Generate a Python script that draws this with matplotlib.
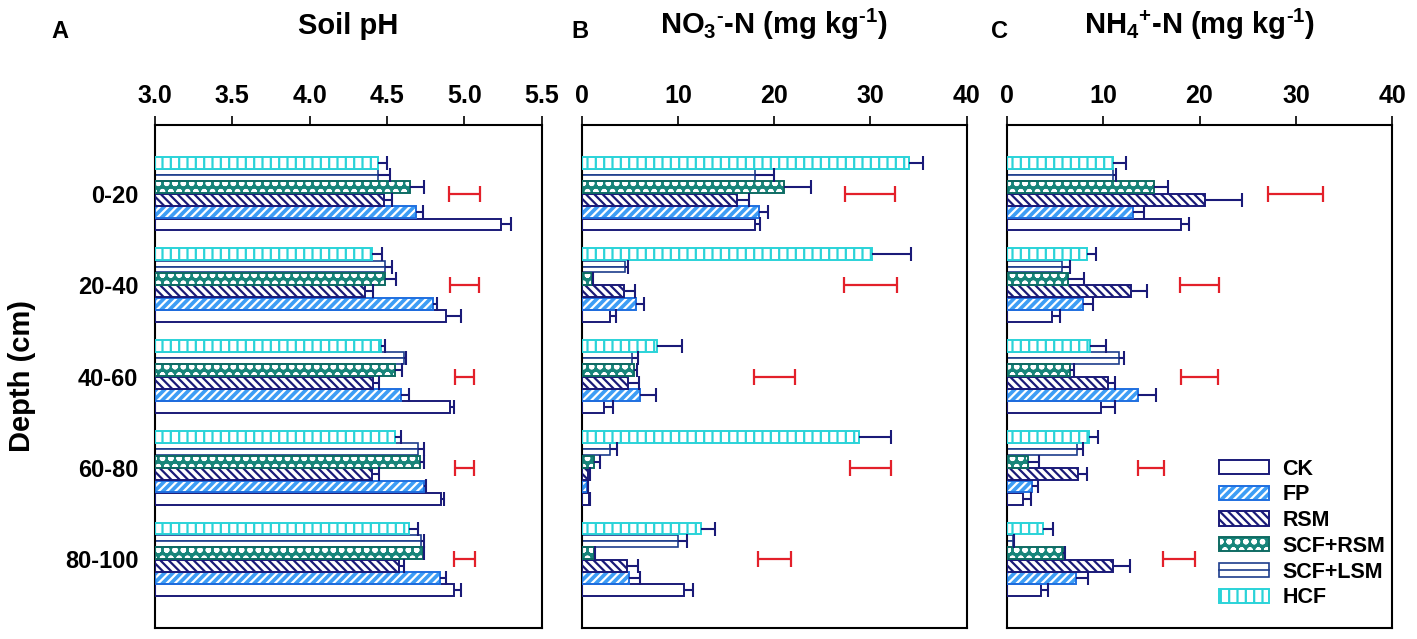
import numpy as np
import matplotlib
matplotlib.use("Agg")
import matplotlib.pyplot as plt
from matplotlib.patches import Patch
from matplotlib.lines import Line2D
from matplotlib.ticker import FormatStrFormatter

plt.rcParams["font.family"] = ["Liberation Sans", "DejaVu Sans"]
plt.rcParams["font.weight"] = "bold"
plt.rcParams["mathtext.fontset"] = "custom"
plt.rcParams["mathtext.rm"] = "Liberation Sans:bold"
plt.rcParams["mathtext.bf"] = "Liberation Sans:bold"
plt.rcParams["mathtext.it"] = "Liberation Sans:bold"
plt.rcParams["mathtext.default"] = "bf"
plt.rcParams["hatch.linewidth"] = 1.6

depths = ["0-20", "20-40", "40-60", "60-80", "80-100"]
treatments = ["CK", "FP", "RSM", "SCF+RSM", "SCF+LSM", "HCF"]

# rows follow treatments, columns follow depths
ph_mean = [
    [5.24, 4.88, 4.91, 4.85, 4.93],
    [4.69, 4.80, 4.59, 4.74, 4.84],
    [4.48, 4.36, 4.41, 4.40, 4.58],
    [4.65, 4.49, 4.55, 4.71, 4.73],
    [4.44, 4.49, 4.61, 4.70, 4.72],
    [4.44, 4.40, 4.46, 4.55, 4.64],
]
ph_err = [
    [0.06, 0.10, 0.02, 0.02, 0.05],
    [0.04, 0.02, 0.05, 0.01, 0.04],
    [0.05, 0.05, 0.04, 0.05, 0.03],
    [0.09, 0.07, 0.05, 0.03, 0.01],
    [0.08, 0.04, 0.01, 0.04, 0.02],
    [0.06, 0.07, 0.03, 0.04, 0.06],
]
ph_lsd_center = [5.0, 5.0, 5.0, 5.0, 5.0]
ph_lsd_half = [0.10, 0.095, 0.06, 0.06, 0.07]

no3_mean = [
    [18.0, 2.9, 2.35, 0.8, 10.6],
    [18.4, 5.6, 6.1, 0.6, 4.95],
    [16.1, 4.4, 4.8, 0.7, 4.75],
    [21.05, 1.1, 5.4, 1.3, 1.3],
    [18.0, 4.5, 5.2, 2.9, 9.97],
    [34.0, 30.2, 7.85, 28.8, 12.4],
]
no3_err = [
    [0.5, 0.7, 0.85, 0.1, 1.0],
    [1.0, 0.9, 1.65, 0.1, 1.1],
    [1.3, 1.1, 1.2, 0.2, 1.05],
    [2.75, 0.1, 0.3, 0.6, 0.1],
    [2.0, 0.3, 0.6, 0.8, 1.0],
    [1.5, 4.0, 2.55, 3.3, 1.5],
]
no3_lsd_center = [30.0, 30.0, 20.0, 30.0, 20.0]
no3_lsd_half = [2.6, 2.75, 2.15, 2.1, 1.7]

nh4_mean = [
    [18.05, 4.67, 9.78, 1.73, 3.56],
    [13.07, 7.9, 13.65, 2.66, 7.19],
    [20.6, 12.9, 10.5, 7.36, 11.0],
    [15.3, 6.4, 6.57, 2.24, 5.87],
    [11.06, 5.7, 11.6, 7.26, 0.69],
    [11.0, 8.36, 8.64, 8.57, 3.8],
]
nh4_err = [
    [0.85, 0.83, 1.42, 0.76, 0.72],
    [1.13, 1.1, 1.8, 0.62, 1.21],
    [3.8, 1.7, 0.7, 0.94, 1.8],
    [1.4, 1.6, 0.41, 1.11, 0.18],
    [0.24, 0.87, 0.6, 0.69, 0.11],
    [1.4, 0.94, 1.63, 0.87, 1.04],
]
nh4_lsd_center = [30.0, 20.0, 20.0, 15.0, 17.9]
nh4_lsd_half = [2.85, 2.0, 1.95, 1.33, 1.67]

ph_ticks = [3.0, 3.5, 4.0, 4.5, 5.0, 5.5]
n_ticks = [0, 10, 20, 30, 40]

navy = "#1a1a78"
red = "#e3202a"
# face, hatch, hatch colour, edge
styles = {
    "CK": ("white", None, "white", navy),
    "FP": ("#3d9df5", "////", "white", "#1f6fe0"),
    "RSM": ("white", "\\\\\\\\", navy, navy),
    "SCF+RSM": ("#17857a", "oo", "white", "#0f6b63"),
    "SCF+LSM": ("white", None, "white", "#1d3d8c"),
    "HCF": ("white", "||", "#2ad3d8", "#2ad3d8"),
}

W, H = 1417, 639
fig = plt.figure(figsize=(W / 100, H / 100), dpi=100)
top_px, bot_px = 125, 628

panels = [
    (155, 541.7, ph_mean, ph_err, ph_lsd_center, ph_lsd_half, ph_ticks, "Soil pH", "A", 60),
    (581.7, 966.7, no3_mean, no3_err, no3_lsd_center, no3_lsd_half, n_ticks,
     "NO$_{3}$$^{\u2010}$-N (mg kg$^{\u20101}$)", "B", 580),
    (1006.7, 1392.3, nh4_mean, nh4_err, nh4_lsd_center, nh4_lsd_half, n_ticks,
     "NH$_{4}$$^{+}$-N (mg kg$^{\u20101}$)", "C", 999),
]

pitch = 0.135
bar_h = 0.13
pos = np.arange(len(depths))

for p, (l, r, means, errs, lsd_c, lsd_h, ticks, title, letter, lx) in enumerate(panels):
    ax = fig.add_axes([l / W, 1 - bot_px / H, (r - l) / W, (bot_px - top_px) / H])
    base = ticks[0]
    for k, name in enumerate(treatments):
        face, hatch, hcol, edge = styles[name]
        y = pos + (2.5 - k) * pitch
        m = np.array(means[k])
        e = np.array(errs[k])
        if name == "SCF+LSM":
            for s in (-1, 1):
                ax.barh(y + s * bar_h / 4, m - base, left=base, height=bar_h / 2,
                        color=face, edgecolor=edge, linewidth=1.2, zorder=2)
        else:
            ax.barh(y, m - base, left=base, height=bar_h, color=face, hatch=hatch,
                    edgecolor=hcol, linewidth=0, zorder=2)
            ax.barh(y, m - base, left=base, height=bar_h, fill=False,
                    edgecolor=edge, linewidth=1.4, zorder=3)
        ax.hlines(y, m, m + e, color=navy, lw=1.5, zorder=4)
        ax.plot(m + e, y, "|", ms=10, mew=1.5, color=navy, zorder=4)

    ax.errorbar(lsd_c, pos, xerr=lsd_h, fmt="none", ecolor=red, elinewidth=1.6,
                capsize=5.5, capthick=1.6, zorder=4)

    ax.set_xlim(ticks[0], ticks[-1])
    ax.set_ylim(len(depths) - 0.25, -0.75)
    ax.set_xticks(ticks)
    if p == 0:
        ax.xaxis.set_major_formatter(FormatStrFormatter("%.1f"))
    ax.xaxis.tick_top()
    ax.tick_params(axis="x", direction="out", length=6.5, width=1.2, pad=6, labelsize=18)
    ax.set_yticks(pos)
    if p == 0:
        ax.set_yticklabels(depths)
    else:
        ax.set_yticklabels([])
    ax.tick_params(axis="y", length=0, pad=12, labelsize=17)
    for sp in ax.spines.values():
        sp.set_linewidth(1.5)

    cx = (l + r) / 2 / W
    fig.text(cx, 1 - 34 / H, title, ha="center", va="baseline", fontsize=21, fontweight="bold")
    fig.text(lx / W, 1 - 38 / H, letter, ha="center", va="baseline", fontsize=17, fontweight="bold")

    if p == 2:
        handles = []
        for name in treatments:
            face, hatch, hcol, edge = styles[name]
            if name == "SCF+LSM":
                handles.append((Patch(facecolor=face, edgecolor=edge, linewidth=1.2),
                                Line2D([], [], color=edge, lw=1.2)))
            else:
                handles.append((Patch(facecolor=face, hatch=hatch, edgecolor=hcol, linewidth=0),
                                Patch(fill=False, edgecolor=edge, linewidth=1.4)))
        ax.legend(handles, treatments, loc="lower right", bbox_to_anchor=(1.004, 0.022),
                  frameon=False, handlelength=2.35, handleheight=0.63,
                  handletextpad=0.6, labelspacing=0.22, borderaxespad=0.0,
                  prop={"weight": "bold", "size": 15.5})

fig.text(22 / W, 1 - (top_px + bot_px) / 2 / H, "Depth (cm)", rotation=90,
         ha="center", va="center", fontsize=21, fontweight="bold")

fig.savefig("out.png", dpi=100)
